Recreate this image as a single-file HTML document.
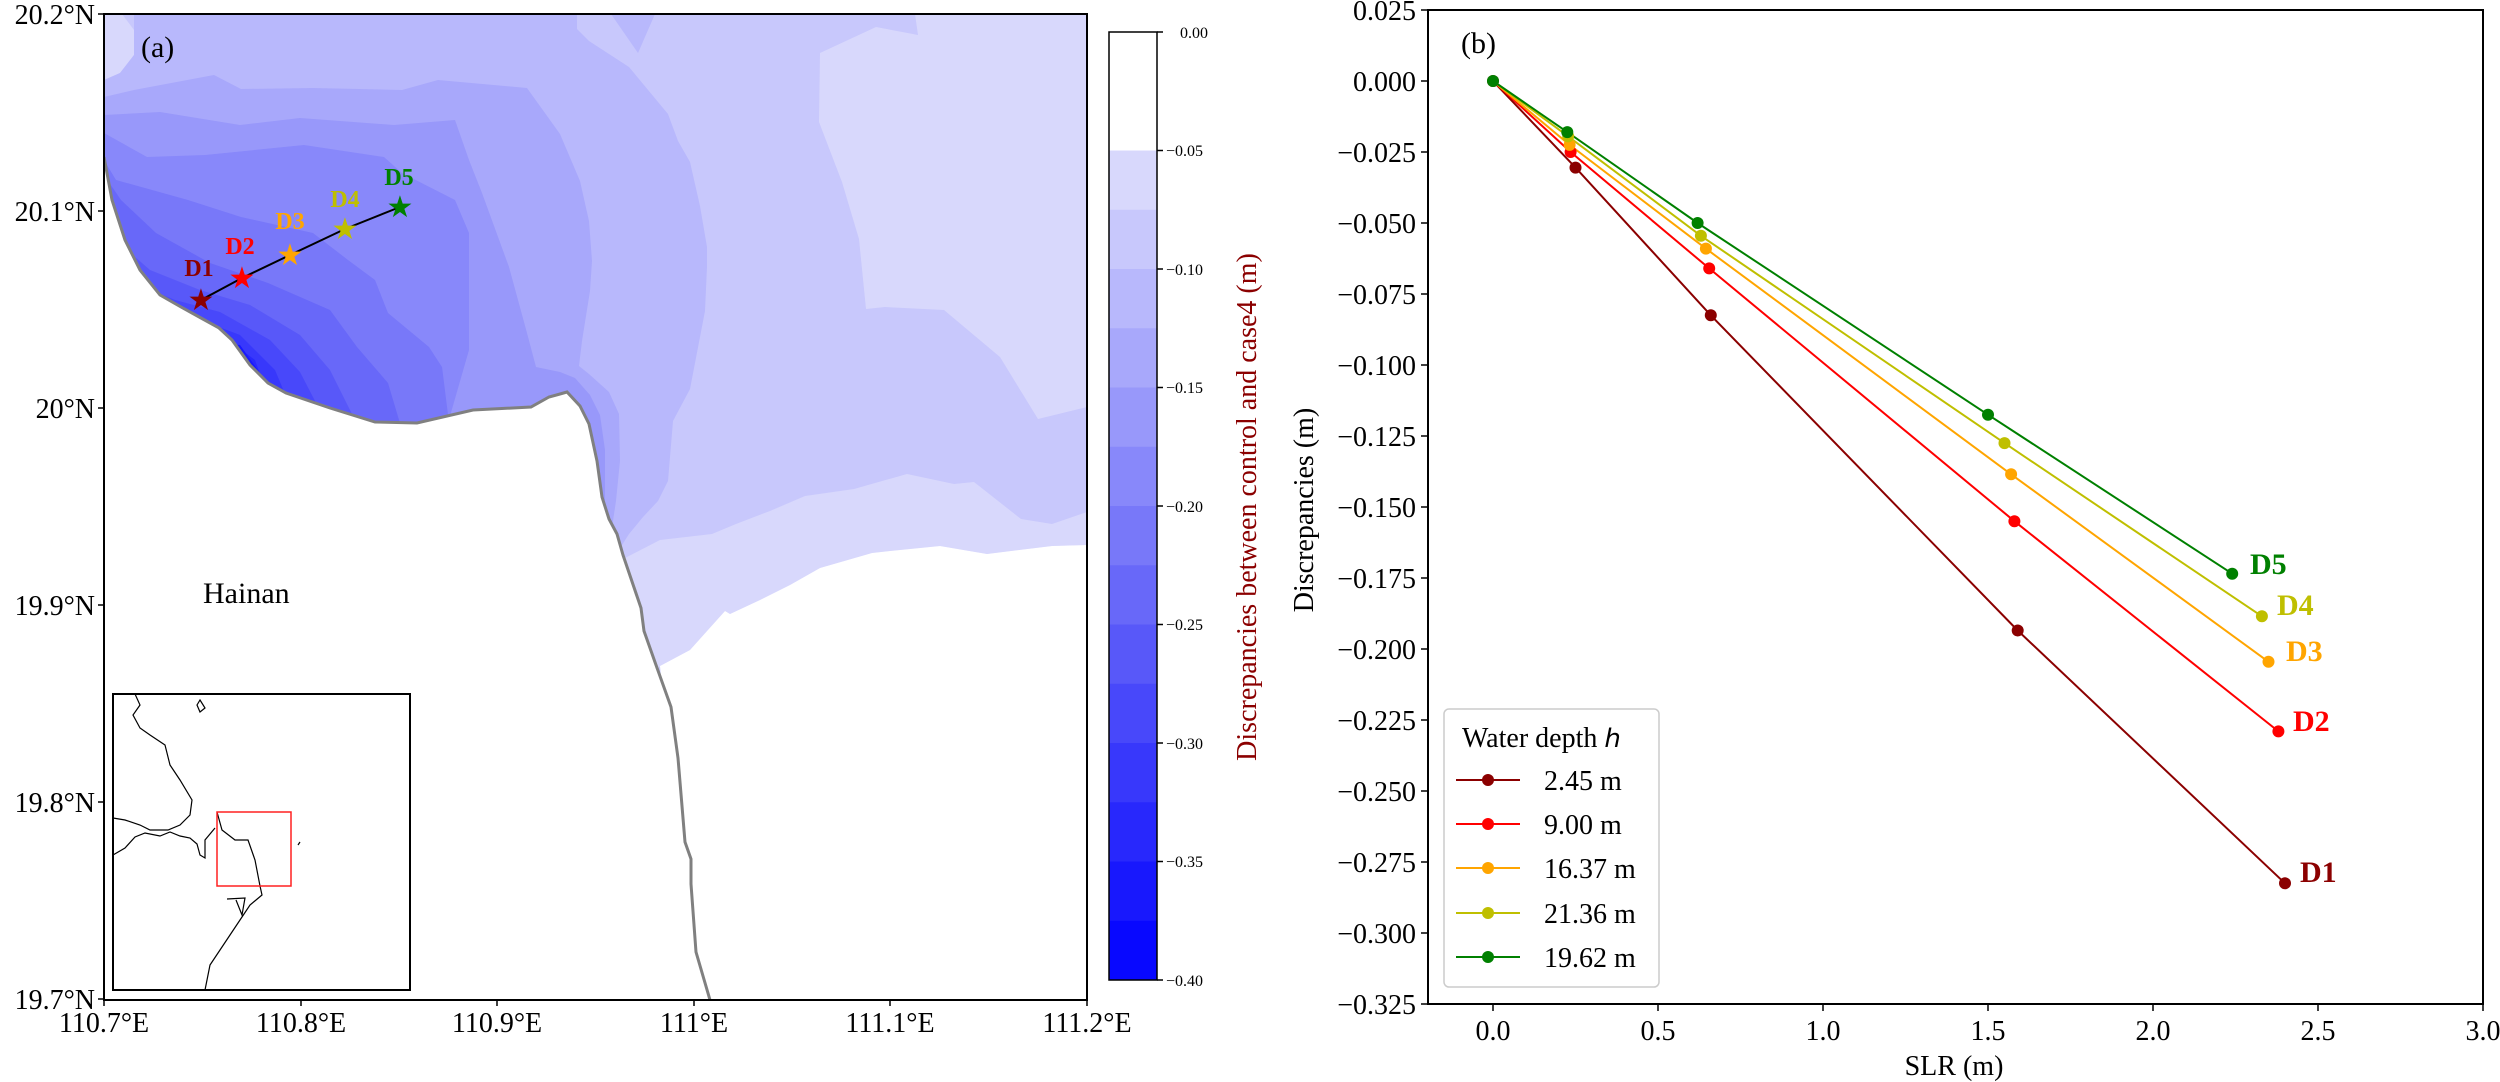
<!DOCTYPE html>
<html><head><meta charset="utf-8"><style>
html,body{margin:0;padding:0;background:#fff;}
svg{display:block;}
text{font-family:"Liberation Serif",serif;}
</style></head><body>
<svg width="2500" height="1082" viewBox="0 0 2500 1082" xmlns="http://www.w3.org/2000/svg">
<defs><clipPath id="mc"><rect x="104" y="14" width="983" height="986"/></clipPath></defs>
<g clip-path="url(#mc)">
<rect x="104" y="14" width="983" height="986" fill="#c8c8fc"/>
<polygon fill="#d8d8fc" points="915,14 918,35 876,27 820,53 819,122 842,182 859,239 866,309 885,307 944,310 1000,357 1038,419 1087,407 1087,14"/>
<polygon fill="#d8d8fc" points="104,14 122,14 134,30 134,55 120,73 104,80"/>
<polygon fill="#d8d8fc" points="600,580 623,559 660,540 712,534 736,524 770,511 805,496 854,489 907,474 954,484 974,482 1021,519 1052,524 1087,512 1087,545 1052,546 987,554 940,546 890,551 872,553 820,568 790,585 760,600 730,614 725,611 690,650 660,666 640,700"/>
<polygon fill="#ffffff" points="660,666 690,650 725,611 730,614 760,600 790,585 820,568 872,553 890,551 940,546 987,554 1052,546 1087,545 1087,1000 690,1000"/>
<polygon fill="#b8b8fc" points="134,14 577,14 577,29 589,41 629,67 668,114 678,141 690,162 700,206 707,247 707,267 705,311 690,389 673,421 668,481 658,501 643,517 629,534 600,580 104,580 104,80 120,73 134,55 134,30"/>
<polygon fill="#b8b8fc" points="611,14 638,53 655,14"/>
<polygon fill="#a8a8fb" points="104,97 134,90 214,75 241,89 313,88 402,90 438,80 527,88 560,134 580,181 589,221 592,261 590,291 582,341 579,366 589,374 609,392 619,414 620,461 616,501 611,534 104,560"/>
<polygon fill="#9898fa" points="104,115 160,112 240,125 300,118 394,125 455,120 469,160 482,193 509,267 527,333 536,367 560,372 575,378 590,395 600,415 605,450 605,500 104,520"/>
<polygon fill="#8888fa" points="104,133 147,157 205,155 304,145 384,157 402,173 455,200 469,233 469,350 446,430 104,430"/>
<polygon fill="#7878f9" points="104,160 116,180 188,200 241,217 313,233 348,260 375,280 388,313 429,347 442,367 450,430 104,430"/>
<polygon fill="#6868f9" points="104,175 121,200 156,233 210,263 268,283 330,310 357,347 388,383 402,430 104,430"/>
<polygon fill="#5858f9" points="104,230 150,270 200,290 250,305 300,335 330,370 360,430 104,430"/>
<polygon fill="#4848fa" points="104,270 175,300 220,312 270,340 300,372 330,430 104,430"/>
<polygon fill="#3838fb" points="104,300 195,318 240,335 275,370 300,430 104,430"/>
<polygon fill="#2828fc" points="104,320 215,330 255,360 280,430 104,430"/>
<polygon fill="#1818fd" points="104,335 240,345 265,380 285,430 104,430"/>
<polygon fill="#ffffff" points="104,157 112,200 125,240 140,270 160,295 181,307 201,318 219,328 232,340 250,365 268,383 286,393 330,408 375,422 417,423 473,410 531,407 549,397 560,394 567,392 580,406 589,424 597,461 602,497 609,519 617,534 623,555 641,608 644,631 656,665 671,707 678,758 685,842 691,859 691,884 696,952 710,1000 104,1000"/>
<polyline fill="none" stroke="#808080" stroke-width="3" points="104,157 112,200 125,240 140,270 160,295 181,307 201,318 219,328 232,340 250,365 268,383 286,393 330,408 375,422 417,423 473,410 531,407 549,397 560,394 567,392 580,406 589,424 597,461 602,497 609,519 617,534 623,555 641,608 644,631 656,665 671,707 678,758 685,842 691,859 691,884 696,952 710,1000"/>
</g>
<rect x="104" y="14" width="983" height="986" fill="none" stroke="#000" stroke-width="2"/>
<!-- track -->
<polyline points="201,300 242,278 290,255 345,229 400,207" fill="none" stroke="#000" stroke-width="2"/>
<g font-size="30">
<text x="201" y="310" fill="#8b0000" text-anchor="middle">★</text>
<text x="242" y="288" fill="#ff0000" text-anchor="middle">★</text>
<text x="290" y="265" fill="#ffa500" text-anchor="middle">★</text>
<text x="345" y="239" fill="#bfbf00" text-anchor="middle">★</text>
<text x="400" y="217" fill="#008000" text-anchor="middle">★</text>
</g>
<g font-size="24" font-weight="bold" text-anchor="middle">
<text x="199" y="276" fill="#8b0000">D1</text>
<text x="240" y="254" fill="#ff0000">D2</text>
<text x="290" y="229" fill="#ffa500">D3</text>
<text x="345" y="207" fill="#bfbf00">D4</text>
<text x="399" y="185" fill="#008000">D5</text>
</g>
<text x="141" y="57" font-size="30">(a)</text>
<text x="203" y="603" font-size="30">Hainan</text>
<!-- inset -->
<rect x="113" y="694" width="297" height="296" fill="#fff" stroke="#000" stroke-width="2"/>
<g fill="none" stroke="#000" stroke-width="1.2">
<path d="M135,694 L140,705 L133,715 L140,728 L150,735 L165,745 L170,765 L180,780 L192,800 L190,815 L180,825 L168,830 L150,830 L140,825 L125,820 L113,818"/>
<path d="M200,700 L205,708 L200,712 L197,705 Z"/>
<path d="M113,855 L125,848 L135,837 L145,833 L160,836 L170,832 L180,836 L190,838 L197,844 L200,855 L205,858 L205,840 L215,828"/>
<path d="M217,812 L222,830 L235,840 L248,840 L255,860 L260,886 L262,895 L250,905 L240,920 L230,935 L220,950 L210,965 L205,990"/>
<path d="M227,899 L245,898 L242,915 L236,900"/>
<path d="M298,845 L300,842"/>
</g>
<rect x="217" y="812" width="74" height="74" fill="none" stroke="#ff2020" stroke-width="1.5"/>
<!-- left ticks -->
<g stroke="#000" stroke-width="1.5">
<line x1="98" y1="14" x2="104" y2="14"/><line x1="98" y1="211" x2="104" y2="211"/><line x1="98" y1="408" x2="104" y2="408"/><line x1="98" y1="605" x2="104" y2="605"/><line x1="98" y1="802" x2="104" y2="802"/><line x1="98" y1="999" x2="104" y2="999"/>
<line x1="104" y1="1000" x2="104" y2="1006"/><line x1="301" y1="1000" x2="301" y2="1006"/><line x1="497" y1="1000" x2="497" y2="1006"/><line x1="694" y1="1000" x2="694" y2="1006"/><line x1="890" y1="1000" x2="890" y2="1006"/><line x1="1087" y1="1000" x2="1087" y2="1006"/>
</g>
<g font-size="28" text-anchor="end">
<text x="95" y="24">20.2°N</text><text x="95" y="221">20.1°N</text><text x="95" y="418">20°N</text><text x="95" y="615">19.9°N</text><text x="95" y="812">19.8°N</text><text x="95" y="1009">19.7°N</text>
</g>
<g font-size="28" text-anchor="middle">
<text x="104" y="1032">110.7°E</text><text x="301" y="1032">110.8°E</text><text x="497" y="1032">110.9°E</text><text x="694" y="1032">111°E</text><text x="890" y="1032">111.1°E</text><text x="1087" y="1032">111.2°E</text>
</g>
<!-- colorbar -->
<rect x="1109" y="32" width="48" height="119" fill="#fff"/>
<rect x="1109" y="150.5" width="48" height="59.8" fill="#d8d8fc"/>
<rect x="1109" y="209.75" width="48" height="59.8" fill="#c8c8fc"/>
<rect x="1109" y="269" width="48" height="59.8" fill="#b8b8fc"/>
<rect x="1109" y="328.25" width="48" height="59.8" fill="#a8a8fb"/>
<rect x="1109" y="387.5" width="48" height="59.8" fill="#9898fa"/>
<rect x="1109" y="446.75" width="48" height="59.8" fill="#8888fa"/>
<rect x="1109" y="506" width="48" height="59.8" fill="#7878f9"/>
<rect x="1109" y="565.25" width="48" height="59.8" fill="#6868f9"/>
<rect x="1109" y="624.5" width="48" height="59.8" fill="#5858f9"/>
<rect x="1109" y="683.75" width="48" height="59.8" fill="#4848fa"/>
<rect x="1109" y="743" width="48" height="59.8" fill="#3838fb"/>
<rect x="1109" y="802.25" width="48" height="59.8" fill="#2828fc"/>
<rect x="1109" y="861.5" width="48" height="59.8" fill="#1818fd"/>
<rect x="1109" y="920.75" width="48" height="59.25" fill="#0808ff"/>
<rect x="1109" y="32" width="48" height="948" fill="none" stroke="#000" stroke-width="1.5"/>
<g stroke="#000" stroke-width="1.5">
<line x1="1157" y1="32" x2="1163" y2="32"/><line x1="1157" y1="150.5" x2="1163" y2="150.5"/><line x1="1157" y1="269" x2="1163" y2="269"/><line x1="1157" y1="387.5" x2="1163" y2="387.5"/><line x1="1157" y1="506" x2="1163" y2="506"/><line x1="1157" y1="624.5" x2="1163" y2="624.5"/><line x1="1157" y1="743" x2="1163" y2="743"/><line x1="1157" y1="861.5" x2="1163" y2="861.5"/><line x1="1157" y1="980" x2="1163" y2="980"/>
</g>
<g font-size="16" style="font-family:'DejaVu Serif',serif">
<text x="1180" y="38">0.00</text><text x="1166" y="156">−0.05</text><text x="1166" y="275">−0.10</text><text x="1166" y="393">−0.15</text><text x="1166" y="512">−0.20</text><text x="1166" y="630">−0.25</text><text x="1166" y="749">−0.30</text><text x="1166" y="867">−0.35</text><text x="1166" y="986">−0.40</text>
</g>
<text transform="translate(1256,507) rotate(-90)" font-size="28" fill="#8b0000" text-anchor="middle">Discrepancies between control and case4 (m)</text>
<!-- right chart -->
<text transform="translate(1313,510) rotate(-90)" font-size="28" text-anchor="middle">Discrepancies (m)</text>
<rect x="1428" y="10" width="1055" height="994" fill="none" stroke="#000" stroke-width="2"/>
<g stroke="#000" stroke-width="1.5">
<line x1="1421" y1="10" x2="1428" y2="10"/><line x1="1421" y1="81" x2="1428" y2="81"/><line x1="1421" y1="152" x2="1428" y2="152"/><line x1="1421" y1="223" x2="1428" y2="223"/><line x1="1421" y1="294" x2="1428" y2="294"/><line x1="1421" y1="365" x2="1428" y2="365"/><line x1="1421" y1="436" x2="1428" y2="436"/><line x1="1421" y1="507" x2="1428" y2="507"/><line x1="1421" y1="578" x2="1428" y2="578"/><line x1="1421" y1="649" x2="1428" y2="649"/><line x1="1421" y1="720" x2="1428" y2="720"/><line x1="1421" y1="791" x2="1428" y2="791"/><line x1="1421" y1="862" x2="1428" y2="862"/><line x1="1421" y1="933" x2="1428" y2="933"/><line x1="1421" y1="1004" x2="1428" y2="1004"/>
<line x1="1493" y1="1004" x2="1493" y2="1011"/><line x1="1658" y1="1004" x2="1658" y2="1011"/><line x1="1823" y1="1004" x2="1823" y2="1011"/><line x1="1988" y1="1004" x2="1988" y2="1011"/><line x1="2153" y1="1004" x2="2153" y2="1011"/><line x1="2318" y1="1004" x2="2318" y2="1011"/><line x1="2483" y1="1004" x2="2483" y2="1011"/>
</g>
<g font-size="28" text-anchor="end">
<text x="1416" y="20">0.025</text><text x="1416" y="91">0.000</text><text x="1416" y="162">−0.025</text><text x="1416" y="233">−0.050</text><text x="1416" y="304">−0.075</text><text x="1416" y="375">−0.100</text><text x="1416" y="446">−0.125</text><text x="1416" y="517">−0.150</text><text x="1416" y="588">−0.175</text><text x="1416" y="659">−0.200</text><text x="1416" y="730">−0.225</text><text x="1416" y="801">−0.250</text><text x="1416" y="872">−0.275</text><text x="1416" y="943">−0.300</text><text x="1416" y="1014">−0.325</text>
</g>
<g font-size="28" text-anchor="middle">
<text x="1493" y="1040">0.0</text><text x="1658" y="1040">0.5</text><text x="1823" y="1040">1.0</text><text x="1988" y="1040">1.5</text><text x="2153" y="1040">2.0</text><text x="2318" y="1040">2.5</text><text x="2483" y="1040">3.0</text>
<text x="1954" y="1075">SLR (m)</text>
</g>
<text x="1461" y="53" font-size="30">(b)</text>
<g fill="none" stroke-width="2">
<polyline stroke="#8b0000" points="1493,81 1575.5,167.6 1710.8,315.3 2017.7,630.5 2285,883.3"/>
<polyline stroke="#ff0000" points="1493,81 1570.6,152 1709.2,268.4 2014.4,521.2 2278.4,731.4"/>
<polyline stroke="#ffa500" points="1493,81 1569.6,144.9 1705.9,248.6 2011.1,474.3 2268.5,661.8"/>
<polyline stroke="#bfbf00" points="1493,81 1568.2,136.4 1700.9,235.8 2004.5,443.1 2261.9,616.3"/>
<polyline stroke="#008000" points="1493,81 1567.3,132.1 1697.6,223 1988,414.7 2232.2,573.7"/>
</g>
<g fill="#8b0000"><circle cx="1493" cy="81" r="6"/><circle cx="1575.5" cy="167.6" r="6"/><circle cx="1710.8" cy="315.3" r="6"/><circle cx="2017.7" cy="630.5" r="6"/><circle cx="2285" cy="883.3" r="6"/></g>
<g fill="#ff0000"><circle cx="1570.6" cy="152" r="6"/><circle cx="1709.2" cy="268.4" r="6"/><circle cx="2014.4" cy="521.2" r="6"/><circle cx="2278.4" cy="731.4" r="6"/></g>
<g fill="#ffa500"><circle cx="1569.6" cy="144.9" r="6"/><circle cx="1705.9" cy="248.6" r="6"/><circle cx="2011.1" cy="474.3" r="6"/><circle cx="2268.5" cy="661.8" r="6"/></g>
<g fill="#bfbf00"><circle cx="1568.2" cy="136.4" r="6"/><circle cx="1700.9" cy="235.8" r="6"/><circle cx="2004.5" cy="443.1" r="6"/><circle cx="2261.9" cy="616.3" r="6"/></g>
<g fill="#008000"><circle cx="1493" cy="81" r="6"/><circle cx="1567.3" cy="132.1" r="6"/><circle cx="1697.6" cy="223" r="6"/><circle cx="1988" cy="414.7" r="6"/><circle cx="2232.2" cy="573.7" r="6"/></g>
<g font-size="30" font-weight="bold">
<text x="2250" y="574" fill="#008000">D5</text>
<text x="2277" y="615" fill="#bfbf00">D4</text>
<text x="2286" y="661" fill="#ffa500">D3</text>
<text x="2293" y="731" fill="#ff0000">D2</text>
<text x="2300" y="882" fill="#8b0000">D1</text>
</g>
<!-- legend -->
<rect x="1444" y="709" width="215" height="278" rx="5" fill="#fff" fill-opacity="0.85" stroke="#cccccc" stroke-width="1.5"/>
<text x="1462" y="747" font-size="28">Water depth <tspan font-style="italic" style="font-family:'DejaVu Sans',sans-serif" font-size="26">h</tspan></text>
<g stroke-width="2">
<line x1="1456" y1="780" x2="1520" y2="780" stroke="#8b0000"/><circle cx="1488" cy="780" r="6" fill="#8b0000"/>
<line x1="1456" y1="824" x2="1520" y2="824" stroke="#ff0000"/><circle cx="1488" cy="824" r="6" fill="#ff0000"/>
<line x1="1456" y1="868" x2="1520" y2="868" stroke="#ffa500"/><circle cx="1488" cy="868" r="6" fill="#ffa500"/>
<line x1="1456" y1="913" x2="1520" y2="913" stroke="#bfbf00"/><circle cx="1488" cy="913" r="6" fill="#bfbf00"/>
<line x1="1456" y1="957" x2="1520" y2="957" stroke="#008000"/><circle cx="1488" cy="957" r="6" fill="#008000"/>
</g>
<g font-size="28">
<text x="1544" y="790">2.45 m</text><text x="1544" y="834">9.00 m</text><text x="1544" y="878">16.37 m</text><text x="1544" y="923">21.36 m</text><text x="1544" y="967">19.62 m</text>
</g>
</svg>
</body></html>
